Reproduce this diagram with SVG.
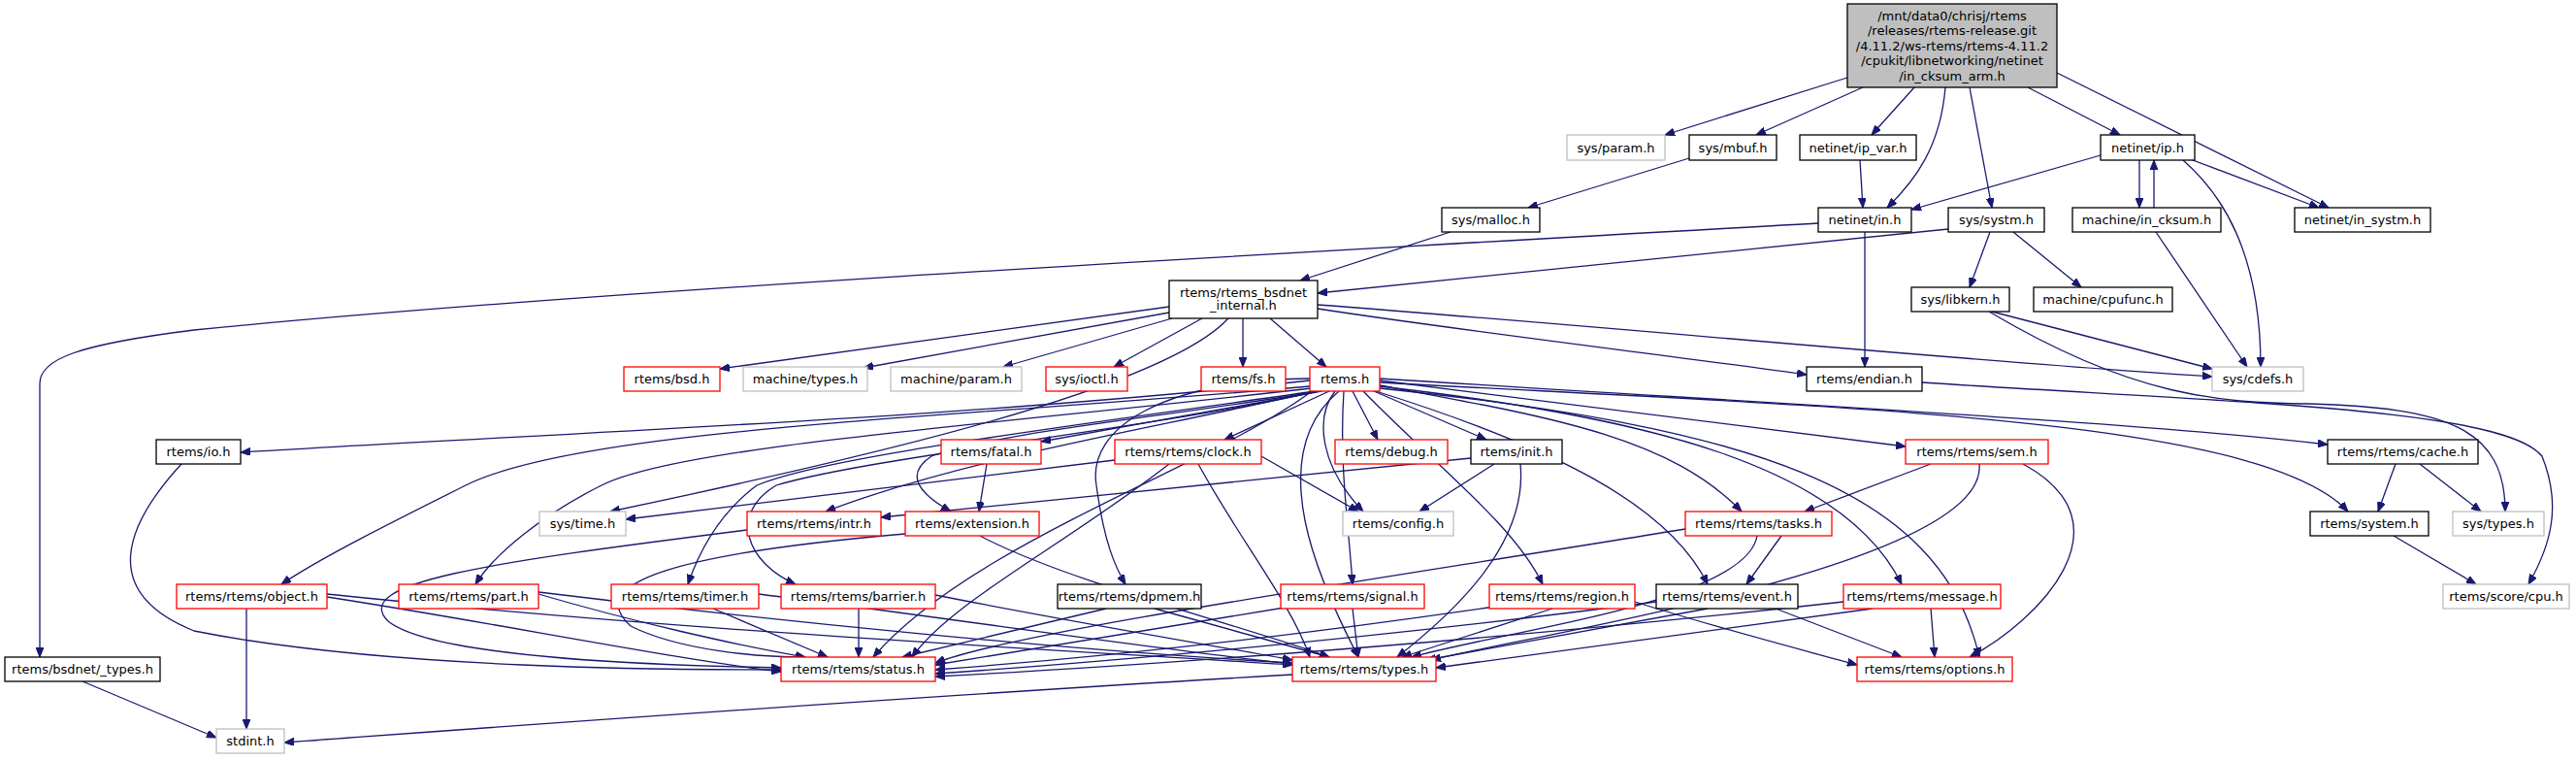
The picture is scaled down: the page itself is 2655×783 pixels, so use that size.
<svg xmlns="http://www.w3.org/2000/svg" width="2655" height="783" viewBox="0 0 2655 783">
<defs>
<marker id="arr" markerUnits="userSpaceOnUse" markerWidth="11" markerHeight="8" refX="10" refY="4" orient="auto">
<path d="M0,0 L10,4 L0,8 z" fill="#191970" stroke="#191970" stroke-width="1"/>
</marker>
<style>
rect{stroke-width:1.3}
.b{fill:#fff;stroke:#000}
.r{fill:#fff;stroke:#ff0000}
.g{fill:#fff;stroke:#bfbfbf}
.m{fill:#bfbfbf;stroke:#000}
text{font-family:"DejaVu Sans","Liberation Sans",sans-serif;font-size:13px;text-anchor:middle;fill:#000}
#edges path{fill:none;stroke:#191970;stroke-width:1.3;marker-end:url(#arr)}
</style>
</defs>
<rect width="2655" height="783" fill="#fff"/>
<g id="edges">
<path d="M1904,80 L1716,139"/>
<path d="M1920,90 L1810,139"/>
<path d="M1973,90 L1929,139"/>
<path d="M2005,90 C2000,150 1975,185 1945,214"/>
<path d="M1917,165 L1920,214"/>
<path d="M2030,90 L2053,214"/>
<path d="M2090,90 L2185,139"/>
<path d="M2120,75 L2400,214"/>
<path d="M2165,160 L1970,216"/>
<path d="M2205,165 L2205,214"/>
<path d="M2220,214 L2220,165"/>
<path d="M2252,162 L2390,214"/>
<path d="M2250,165 C2290,200 2330,260 2330,378"/>
<path d="M2222,239 L2316,378"/>
<path d="M1741,163 L1575,214"/>
<path d="M1495,239 L1340,289"/>
<path d="M2008,236 L1358,302"/>
<path d="M2051,239 L2030,296"/>
<path d="M2075,239 L2145,296"/>
<path d="M1874,230 C1300,262 600,300 200,340 C80,355 41,370 41,395 L41,677"/>
<path d="M1922,239 L1922,378"/>
<path d="M1205,316 L742,380"/>
<path d="M1205,322 L890,379"/>
<path d="M1208,328 L1034,378"/>
<path d="M1239,328 L1148,378"/>
<path d="M1281,328 L1281,378"/>
<path d="M1309,328 L1367,378"/>
<path d="M1358,318 C1500,340 1750,370 1862,386"/>
<path d="M1358,314 C1700,340 2000,370 2280,388"/>
<path d="M1266,328 C1200,400 900,470 629,527"/>
<path d="M2053,321 L2280,380"/>
<path d="M2050,321 C2200,410 2290,415 2380,416 C2520,420 2582,440 2582,527"/>
<path d="M1981,394 C2300,415 2580,420 2620,470 C2640,520 2630,560 2606,602"/>
<path d="M2469,478 L2451,527"/>
<path d="M2494,478 L2557,527"/>
<path d="M2467,552 L2552,602"/>
<path d="M1350,392 C1000,430 600,445 248,466"/>
<path d="M1350,398 C1000,430 600,440 480,500 C400,540 330,575 290,602"/>
<path d="M1352,400 C1000,440 700,460 620,500 C560,530 510,570 490,602"/>
<path d="M1355,403 C1100,440 850,470 780,500 C740,530 720,570 709,602"/>
<path d="M1358,403 C1200,440 900,470 800,500 C750,530 770,580 820,602"/>
<path d="M1355,403 C1200,440 1000,470 851,527"/>
<path d="M1360,403 C1200,430 1030,445 960,470 C930,490 950,510 980,527"/>
<path d="M1362,403 L1073,455"/>
<path d="M1370,403 L1262,453"/>
<path d="M1394,403 L1420,453"/>
<path d="M1416,403 L1532,453"/>
<path d="M1376,403 C1355,430 1360,480 1405,527"/>
<path d="M1422,397 C1600,430 1720,450 1795,527"/>
<path d="M1422,392 L1964,460"/>
<path d="M1422,390 C1900,420 2200,435 2399,458"/>
<path d="M1422,394 C1900,420 2330,430 2420,527"/>
<path d="M1350,390 C1200,392 1120,440 1130,500 C1138,560 1150,585 1160,602"/>
<path d="M1385,403 C1380,480 1390,540 1394,602"/>
<path d="M1405,403 C1480,480 1560,540 1590,602"/>
<path d="M1418,403 C1600,460 1720,520 1760,602"/>
<path d="M1422,398 C1700,430 1900,480 1960,602"/>
<path d="M1422,400 C1800,440 2000,500 2040,677"/>
<path d="M1380,403 C1300,470 1360,600 1400,677"/>
<path d="M1352,403 C1250,480 1000,560 900,677"/>
<path d="M187,478 C130,540 100,610 200,650 C400,690 700,690 805,690"/>
<path d="M1017,478 L1009,527"/>
<path d="M1149,474 L645,535"/>
<path d="M1300,470 L1400,527"/>
<path d="M1205,478 C1100,560 980,620 940,677"/>
<path d="M1235,478 C1280,560 1330,620 1350,677"/>
<path d="M1540,478 L1463,527"/>
<path d="M1516,472 L908,533"/>
<path d="M1567,478 C1575,560 1500,630 1440,677"/>
<path d="M1990,478 L1860,527"/>
<path d="M2040,478 C2050,580 1600,650 1475,680"/>
<path d="M2085,478 C2200,540 2100,640 2030,677"/>
<path d="M770,546 C500,580 360,600 400,640 C450,680 700,686 805,688"/>
<path d="M933,550 C700,570 600,600 650,645 C700,670 780,677 830,677"/>
<path d="M1010,552 C1100,600 1300,650 1370,677"/>
<path d="M1737,545 C1400,600 1050,650 964,683"/>
<path d="M1836,552 L1800,602"/>
<path d="M1811,552 C1800,620 1550,650 1455,677"/>
<path d="M254,627 L254,751"/>
<path d="M337,615 C500,640 700,680 805,692"/>
<path d="M337,612 C700,650 1100,670 1332,685"/>
<path d="M555,612 C650,640 760,665 830,677"/>
<path d="M555,610 C800,640 1100,670 1332,683"/>
<path d="M735,627 L853,677"/>
<path d="M782,612 C1000,640 1200,670 1332,684"/>
<path d="M885,627 L885,677"/>
<path d="M964,613 C1100,640 1250,665 1332,680"/>
<path d="M1140,627 L930,677"/>
<path d="M1190,627 L1370,677"/>
<path d="M1330,625 L964,685"/>
<path d="M1394,627 L1400,677"/>
<path d="M1540,625 C1300,660 1100,680 964,690"/>
<path d="M1600,627 L1445,677"/>
<path d="M1685,620 C1780,650 1860,670 1914,685"/>
<path d="M1707,620 C1400,660 1100,685 964,694"/>
<path d="M1760,627 L1470,680"/>
<path d="M1830,627 L1960,677"/>
<path d="M1900,620 C1500,665 1100,690 964,697"/>
<path d="M1930,627 L1480,688"/>
<path d="M1990,627 L1994,677"/>
<path d="M1332,695 C900,720 500,750 293,765"/>
<path d="M85,702 L223,760"/>
</g>
<g id="n_main"><rect class="m" x="1904" y="4" width="216" height="86"/><text x="2012" y="20.5">/mnt/data0/chrisj/rtems</text><text x="2012" y="36">/releases/rtems-release.git</text><text x="2012" y="51.5">/4.11.2/ws-rtems/rtems-4.11.2</text><text x="2012" y="67">/cpukit/libnetworking/netinet</text><text x="2012" y="82.5">/in_cksum_arm.h</text></g>
<g id="n_sys_param"><rect class="g" x="1615" y="139" width="101" height="26"/><text x="1665.5" y="156.5">sys/param.h</text></g>
<g id="n_sys_mbuf"><rect class="b" x="1741" y="139" width="90" height="26"/><text x="1786" y="156.5">sys/mbuf.h</text></g>
<g id="n_ip_var"><rect class="b" x="1855" y="139" width="120" height="26"/><text x="1915" y="156.5">netinet/ip_var.h</text></g>
<g id="n_ip"><rect class="b" x="2165" y="139" width="97" height="26"/><text x="2213.5" y="156.5">netinet/ip.h</text></g>
<g id="n_sys_malloc"><rect class="b" x="1486" y="214" width="101" height="25"/><text x="1536.5" y="231">sys/malloc.h</text></g>
<g id="n_in"><rect class="b" x="1874" y="214" width="96" height="25"/><text x="1922" y="231">netinet/in.h</text></g>
<g id="n_sys_systm"><rect class="b" x="2008" y="214" width="99" height="25"/><text x="2057.5" y="231">sys/systm.h</text></g>
<g id="n_in_cksum"><rect class="b" x="2136" y="214" width="153" height="25"/><text x="2212.5" y="231">machine/in_cksum.h</text></g>
<g id="n_in_systm"><rect class="b" x="2365" y="214" width="140" height="25"/><text x="2435" y="231">netinet/in_systm.h</text></g>
<g id="n_bsdnet"><rect class="b" x="1205" y="289" width="153" height="39"/><text x="1281.5" y="305.5">rtems/rtems_bsdnet</text><text x="1281.5" y="319">_internal.h</text></g>
<g id="n_libkern"><rect class="b" x="1970" y="296" width="101" height="25"/><text x="2020.5" y="313">sys/libkern.h</text></g>
<g id="n_cpufunc"><rect class="b" x="2096" y="296" width="143" height="25"/><text x="2167.5" y="313">machine/cpufunc.h</text></g>
<g id="n_bsd"><rect class="r" x="643" y="378" width="99" height="25"/><text x="692.5" y="395">rtems/bsd.h</text></g>
<g id="n_mtypes"><rect class="g" x="766" y="378" width="128" height="25"/><text x="830" y="395">machine/types.h</text></g>
<g id="n_mparam"><rect class="g" x="918" y="378" width="135" height="25"/><text x="985.5" y="395">machine/param.h</text></g>
<g id="n_ioctl"><rect class="r" x="1078" y="378" width="84" height="25"/><text x="1120" y="395">sys/ioctl.h</text></g>
<g id="n_fs"><rect class="r" x="1238" y="378" width="87" height="25"/><text x="1281.5" y="395">rtems/fs.h</text></g>
<g id="n_rtems"><rect class="r" x="1350" y="378" width="72" height="25"/><text x="1386" y="395">rtems.h</text></g>
<g id="n_endian"><rect class="b" x="1862" y="378" width="119" height="25"/><text x="1921.5" y="395">rtems/endian.h</text></g>
<g id="n_cdefs"><rect class="g" x="2280" y="378" width="94" height="25"/><text x="2327" y="395">sys/cdefs.h</text></g>
<g id="n_io"><rect class="b" x="161" y="453" width="87" height="25"/><text x="204.5" y="470">rtems/io.h</text></g>
<g id="n_fatal"><rect class="r" x="970" y="453" width="103" height="25"/><text x="1021.5" y="470">rtems/fatal.h</text></g>
<g id="n_clock"><rect class="r" x="1149" y="453" width="151" height="25"/><text x="1224.5" y="470">rtems/rtems/clock.h</text></g>
<g id="n_debug"><rect class="r" x="1376" y="453" width="116" height="25"/><text x="1434" y="470">rtems/debug.h</text></g>
<g id="n_init"><rect class="b" x="1516" y="453" width="94" height="25"/><text x="1563" y="470">rtems/init.h</text></g>
<g id="n_sem"><rect class="r" x="1964" y="453" width="147" height="25"/><text x="2037.5" y="470">rtems/rtems/sem.h</text></g>
<g id="n_cache"><rect class="b" x="2399" y="453" width="155" height="25"/><text x="2476.5" y="470">rtems/rtems/cache.h</text></g>
<g id="n_time"><rect class="g" x="556" y="527" width="89" height="25"/><text x="600.5" y="544">sys/time.h</text></g>
<g id="n_intr"><rect class="r" x="770" y="527" width="138" height="25"/><text x="839" y="544">rtems/rtems/intr.h</text></g>
<g id="n_ext"><rect class="r" x="933" y="527" width="138" height="25"/><text x="1002" y="544">rtems/extension.h</text></g>
<g id="n_config"><rect class="g" x="1384" y="527" width="114" height="25"/><text x="1441" y="544">rtems/config.h</text></g>
<g id="n_tasks"><rect class="r" x="1737" y="527" width="151" height="25"/><text x="1812.5" y="544">rtems/rtems/tasks.h</text></g>
<g id="n_system"><rect class="b" x="2381" y="527" width="122" height="25"/><text x="2442" y="544">rtems/system.h</text></g>
<g id="n_stypes"><rect class="g" x="2528" y="527" width="94" height="25"/><text x="2575" y="544">sys/types.h</text></g>
<g id="n_object"><rect class="r" x="182" y="602" width="155" height="25"/><text x="259.5" y="619">rtems/rtems/object.h</text></g>
<g id="n_part"><rect class="r" x="411" y="602" width="144" height="25"/><text x="483" y="619">rtems/rtems/part.h</text></g>
<g id="n_timer"><rect class="r" x="630" y="602" width="152" height="25"/><text x="706" y="619">rtems/rtems/timer.h</text></g>
<g id="n_barrier"><rect class="r" x="805" y="602" width="159" height="25"/><text x="884.5" y="619">rtems/rtems/barrier.h</text></g>
<g id="n_dpmem"><rect class="b" x="1090" y="602" width="148" height="25"/><text x="1164" y="619">rtems/rtems/dpmem.h</text></g>
<g id="n_signal"><rect class="r" x="1320" y="602" width="148" height="25"/><text x="1394" y="619">rtems/rtems/signal.h</text></g>
<g id="n_region"><rect class="r" x="1535" y="602" width="150" height="25"/><text x="1610" y="619">rtems/rtems/region.h</text></g>
<g id="n_event"><rect class="b" x="1707" y="602" width="146" height="25"/><text x="1780" y="619">rtems/rtems/event.h</text></g>
<g id="n_message"><rect class="r" x="1900" y="602" width="162" height="25"/><text x="1981" y="619">rtems/rtems/message.h</text></g>
<g id="n_cpu"><rect class="g" x="2518" y="602" width="130" height="25"/><text x="2583" y="619">rtems/score/cpu.h</text></g>
<g id="n_btypes"><rect class="b" x="5" y="677" width="160" height="25"/><text x="85" y="694">rtems/bsdnet/_types.h</text></g>
<g id="n_status"><rect class="r" x="805" y="677" width="159" height="25"/><text x="884.5" y="694">rtems/rtems/status.h</text></g>
<g id="n_rtypes"><rect class="r" x="1332" y="677" width="148" height="25"/><text x="1406" y="694">rtems/rtems/types.h</text></g>
<g id="n_options"><rect class="r" x="1914" y="677" width="160" height="25"/><text x="1994" y="694">rtems/rtems/options.h</text></g>
<g id="n_stdint"><rect class="g" x="223" y="751" width="70" height="25"/><text x="258" y="768">stdint.h</text></g>
</svg>
